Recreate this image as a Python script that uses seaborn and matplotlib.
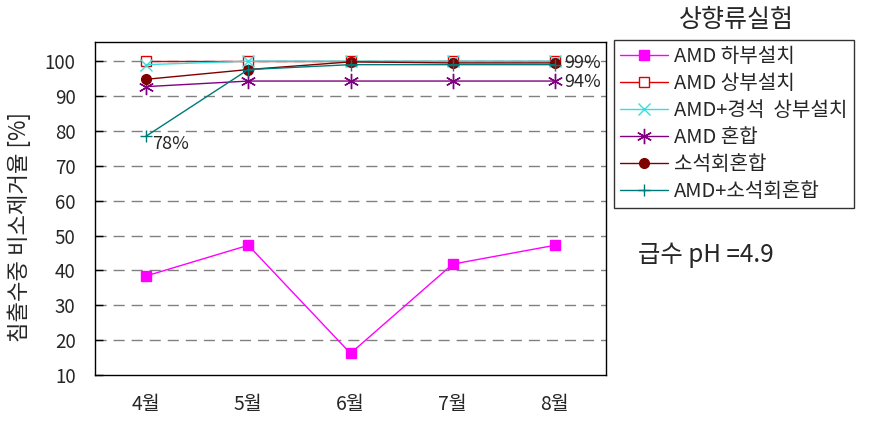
import numpy as np
import pandas as pd
import matplotlib
matplotlib.use("Agg")
import matplotlib.pyplot as plt
import seaborn as sns

months = ["4월", "5월", "6월", "7월", "8월"]
amd_bottom = [38.4, 47.2, 16.2, 41.8, 47.2]
amd_top = [100, 100, 100, 100, 100]
amd_stone_top = [99.0, 100, 100, 100, 100]
amd_mix = [92.7, 94.3, 94.3, 94.3, 94.3]
lime_mix = [94.8, 97.6, 99.8, 99.5, 99.5]
amd_lime_mix = [78.5, 97.6, 99.0, 99.0, 99.0]

series = [
    ("AMD 하부설치", amd_bottom, "#FF00FF", "s", "#FF00FF", 7),
    ("AMD 상부설치", amd_top, "#E00000", "s", "white", 7),
    ("AMD+경석  상부설치", amd_stone_top, "#33E0E0", "x", "#33E0E0", 8),
    ("AMD 혼합", amd_mix, "#800080", (6, 2, 0), "#800080", 11),
    ("소석회혼합", lime_mix, "#800000", "o", "#800000", 7),
    ("AMD+소석회혼합", amd_lime_mix, "#007878", "+", "#007878", 9),
]

sns.set_style("white")
plt.rcParams["font.family"] = ["Noto Sans CJK KR", "DejaVu Sans"]

fig = plt.figure(figsize=(8.79, 4.4), dpi=100)
ax = fig.add_axes([95 / 879, 1 - 375 / 440, 511 / 879, 333 / 440])

x = np.arange(len(months))
for name, vals, col, mk, fc, ms in series:
    df = pd.DataFrame({"x": x, "y": vals})
    sns.lineplot(data=df, x="x", y="y", ax=ax, color=col, marker=mk,
                 markersize=ms, markerfacecolor=fc, markeredgecolor=col,
                 markeredgewidth=1.0, linewidth=1.0, label=name)

ax.set_xlim(-0.5, 4.5)
ax.set_ylim(10, 105.5)
ax.set_yticks(range(10, 101, 10))
ax.set_xticks(x)
ax.set_xticklabels(months, fontsize=14)
ax.set_xticks(x[:-1] + 0.5, minor=True)
ax.tick_params(axis="x", which="major", length=0, pad=14)
ax.tick_params(axis="x", which="minor", direction="in", length=6, width=1, color="black")
ax.tick_params(axis="y", direction="in", length=6, width=1, color="black", labelsize=13.5,
               left=True, pad=14)
for v in range(20, 101, 10):
    ax.axhline(v, color="#808080", linestyle=(0, (8, 5)), linewidth=1, zorder=0)
for sp in ax.spines.values():
    sp.set_color("black")
    sp.set_linewidth(1)
ax.set_xlabel("")
ax.set_ylabel("침출수중 비소제거율 [%]", fontsize=16)
ax.yaxis.set_label_coords(-0.125, 0.445)

ax.annotate("99%", (4, amd_lime_mix[4]), xytext=(7, 1), textcoords="offset points",
            va="center", fontsize=13)
ax.annotate("94%", (4, amd_mix[4]), xytext=(7, -1), textcoords="offset points",
            va="center", fontsize=13)
ax.annotate("78%", (0, amd_lime_mix[0]), xytext=(4, -6), textcoords="offset points",
            va="center", fontsize=13)

handles, labels = ax.get_legend_handles_labels()
ax.get_legend().remove()
leg = fig.legend(handles, labels, loc="upper left",
                 bbox_to_anchor=(614 / 879, 1 - 40 / 440), borderaxespad=0,
                 fontsize=14.5, frameon=True, fancybox=False, edgecolor="black",
                 handlelength=2.4, labelspacing=0.3, borderpad=0.3, handletextpad=0.3)
leg.get_frame().set_linewidth(1)

fig.text(736 / 879, 1 - 20 / 440, "상향류실험", ha="center", va="center", fontsize=18)
fig.text(638 / 879, 1 - 255 / 440, "급수 pH =4.9", ha="left", va="center", fontsize=17.5)

fig.savefig("out.png", dpi=100)
